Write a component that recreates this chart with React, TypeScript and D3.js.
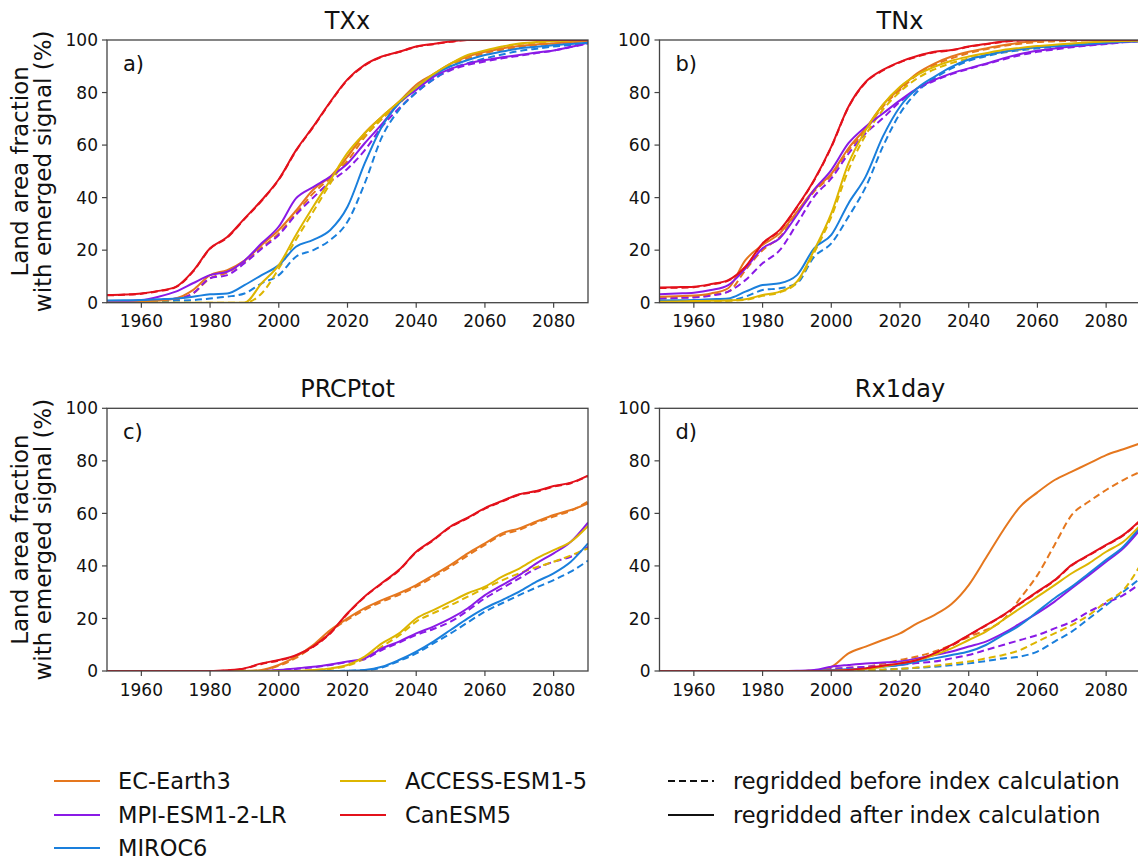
import React from "react";
import * as d3 from "d3";

// years sampled every 5 years
const years = [1950, 1955, 1960, 1965, 1970, 1975, 1980, 1985, 1990, 1995, 2000, 2005, 2010, 2015, 2020, 2025, 2030, 2035, 2040, 2045, 2050, 2055, 2060, 2065, 2070, 2075, 2080, 2085, 2090];
const models = ["EC-Earth3", "MPI-ESM1-2-LR", "MIROC6", "ACCESS-ESM1-5", "CanESM5"];
const colors = ["#E5771E", "#8A1AE6", "#1A7FDC", "#DDB500", "#E3111B"];
const xTicks = [1960, 1980, 2000, 2020, 2040, 2060, 2080];
const yTicks = [0, 20, 40, 60, 80, 100];

// TXx
const txxEC = [0.2, 0.3, 0.5, 0.8, 1.6, 4.8, 10.5, 12.4, 16, 22, 27.7, 35, 43, 48, 55.6, 64.5, 70.8, 76.5, 83, 87, 91, 93.7, 95.5, 96.8, 97.7, 98.3, 98.7, 99.2, 99.6];
const txxECd = [0.1, 0.2, 0.3, 0.6, 1.2, 3.5, 9.3, 11.5, 15.6, 21, 26.4, 34, 41.6, 47.5, 54, 63, 70, 76, 82, 86.5, 90.5, 93, 95, 96.3, 97.3, 98, 98.6, 99.1, 99.6];
const txxMPI = [0.4, 0.6, 1, 2.3, 4.2, 7.4, 10.5, 11.8, 16, 22.6, 29, 39.7, 44, 48, 53, 60.7, 68, 76, 81, 86, 89, 91, 92.4, 93.4, 94.3, 95.2, 96, 97.4, 99];
const txxMPId = [0, 0.2, 0.5, 1, 1.6, 3.5, 9.3, 10.5, 15, 20.5, 25.8, 33.5, 40, 46, 51, 58, 67, 74, 80, 85, 88.5, 90.5, 91.8, 93, 94, 95, 96, 97.3, 98.7];
const txxMIR = [0.8, 0.9, 1, 1.3, 1.6, 2.3, 3.2, 3.5, 6.7, 10.5, 14.3, 21.3, 23.9, 27.7, 36.5, 53, 67, 76, 82, 86.7, 90, 92.4, 94.3, 95.6, 96.8, 97.4, 98, 98.5, 99];
const txxMIRd = [0, 0.2, 0.4, 0.6, 0.8, 1, 1.6, 2.3, 3.5, 7.4, 10.5, 17.5, 20, 23.9, 30.8, 45.4, 63, 73.4, 80, 85, 89, 91.2, 93, 94.5, 95.8, 96.7, 97.5, 98.1, 98.7];
const txxACC = [0, 0, 0, 0, 0, 0, 0, 0, 0, 7.4, 14.3, 25.8, 36.5, 46.7, 57, 64.5, 70.8, 76.5, 82, 87, 91, 94.3, 96, 97.5, 98.7, 99.2, 99.6, 99.8, 100];
const txxACCd = [0, 0, 0, 0, 0, 0, 0, 0, 0, 3.5, 13, 24, 34.6, 45.4, 55.6, 63.5, 70, 75.8, 81.5, 86.5, 90.5, 93.8, 95.6, 97.2, 98.5, 99, 99.5, 99.7, 99.9];
const txxCAN = [2.9, 3.1, 3.5, 4.5, 6, 12, 20.7, 25, 32, 39, 47, 58, 67, 76.5, 85, 90.5, 93.7, 95.5, 97.5, 98.5, 99.4, 100, 100, 100, 100, 100, 100, 100, 100];
const txxCANd = [2.8, 3, 3.4, 4.4, 5.9, 11.8, 20.5, 24.8, 31.8, 38.8, 46.8, 57.8, 66.8, 76.3, 84.8, 90.3, 93.6, 95.4, 97.4, 98.4, 99.3, 100, 100, 100, 100, 100, 100, 100, 100];

// TNx
const tnxEC = [2.3, 2.5, 2.7, 3.5, 5.5, 16.2, 22, 26.4, 34.6, 43, 49, 58.8, 66.4, 75.3, 81.6, 87.3, 91, 93.7, 95.5, 96.8, 98, 99, 99.6, 99.9, 100, 100, 100, 100, 100];
const tnxECd = [1.6, 1.8, 2.2, 3, 4.2, 12.4, 20, 25, 34, 42.3, 48.5, 58, 65.7, 74.6, 81, 86.7, 90.5, 93, 95, 96.5, 97.7, 98.6, 99.2, 99.5, 99.7, 99.9, 100, 100, 100];
const tnxMPI = [3.2, 3.5, 3.8, 4.8, 6.7, 13, 20.7, 24.5, 33.4, 43, 50.5, 60.7, 67, 72, 77, 81.6, 84.8, 87.3, 89.2, 91, 93, 94.7, 95.9, 96.8, 97.5, 98.1, 98.7, 99.2, 99.6];
const tnxMPId = [1.6, 1.8, 2, 2.7, 4.2, 8.6, 15, 20, 30, 40.4, 47.3, 56.7, 64.5, 70.2, 76.5, 81.2, 84.5, 87, 89, 90.8, 92.6, 94.2, 95.5, 96.4, 97.2, 97.9, 98.5, 99.1, 99.6];
const tnxMIR = [0.8, 0.9, 1, 1.3, 1.6, 4.2, 6.7, 7.4, 10.5, 20.7, 25.8, 37.8, 48, 63.2, 74.6, 81.6, 86, 89.8, 92.6, 94.2, 95.5, 96.5, 97.2, 97.6, 98, 98.5, 99, 99.3, 99.6];
const tnxMIRd = [0.3, 0.4, 0.5, 0.6, 0.8, 2.3, 4.8, 5.5, 7.4, 17.5, 22.6, 32.7, 44, 59.4, 72, 80.3, 85.4, 89.2, 92.1, 93.8, 95.2, 96.1, 96.8, 97.4, 98, 98.4, 98.7, 99.2, 99.6];
const tnxACC = [0.4, 0.5, 0.6, 0.7, 0.8, 1.3, 2.9, 4.2, 8, 20, 34, 53, 65.7, 75.3, 82.2, 86.7, 89.8, 92.1, 93.7, 95, 96.2, 97, 97.7, 98.2, 98.7, 99.1, 99.4, 99.6, 99.7];
const tnxACCd = [0.3, 0.4, 0.5, 0.6, 0.7, 1.1, 2.6, 3.9, 7.6, 19, 32.7, 50.5, 63.8, 73.4, 80.3, 85.4, 88.8, 91.2, 93, 94.4, 95.5, 96.4, 97.2, 97.9, 98.5, 98.8, 99, 99.3, 99.6];
const tnxCAN = [5.8, 5.9, 6.1, 7.1, 8.6, 13.7, 22.6, 27.7, 36.5, 46.7, 59.4, 74.6, 84, 88.6, 91.7, 93.9, 95.5, 96.2, 97.5, 98.5, 99.4, 99.9, 100, 100, 100, 100, 100, 100, 100];
const tnxCANd = [5.6, 5.7, 5.9, 6.9, 8.4, 13.5, 22.4, 27.5, 36.3, 46.5, 59.2, 74.4, 83.8, 88.4, 91.5, 93.7, 95.3, 96.1, 97.4, 98.4, 99.3, 99.8, 100, 100, 100, 100, 100, 100, 100];

// PRCPtot
const prcEC = [0, 0, 0, 0, 0, 0, 0, 0, 0, 0.4, 2.3, 5.5, 9.9, 15.6, 20, 23.9, 27, 29.6, 32.7, 36.5, 40.4, 44.8, 48.6, 52.4, 54.3, 56.9, 59.4, 61.3, 63.8];
const prcECd = [0, 0, 0, 0, 0, 0, 0, 0, 0, 0.3, 2, 5, 9.5, 15.2, 19.5, 23.3, 26.4, 29, 32.1, 35.8, 39.7, 44, 48, 51.8, 53.7, 56.5, 58.8, 61, 64.5];
const prcMPI = [0, 0, 0, 0, 0, 0, 0, 0, 0, 0, 0.4, 1, 1.6, 2.5, 3.6, 4.8, 8.6, 11.2, 14.3, 16.9, 20, 23.9, 28.9, 32.7, 36.5, 41, 44.8, 49.2, 56.5];
const prcMPId = [0, 0, 0, 0, 0, 0, 0, 0, 0, 0, 0.3, 0.8, 1.4, 2.3, 3.4, 4.5, 8, 10.8, 13.7, 16, 18.8, 23, 27.7, 31.5, 35.3, 39, 41.6, 43.5, 47.3];
const prcMIR = [0, 0, 0, 0, 0, 0, 0, 0, 0, 0, 0, 0, 0, 0, 0.1, 0.4, 1.6, 4.2, 7.4, 11.2, 15.6, 20, 23.9, 27, 30.2, 34, 37.2, 41.6, 48.6];
const prcMIRd = [0, 0, 0, 0, 0, 0, 0, 0, 0, 0, 0, 0, 0, 0, 0.1, 0.3, 1.3, 3.8, 6.7, 10.5, 14.3, 18.5, 22.6, 25.8, 28.9, 31.8, 34.6, 37.8, 42];
const prcACC = [0, 0, 0, 0, 0, 0, 0, 0, 0, 0, 0, 0, 0.4, 1, 2.3, 5.5, 10.5, 14.3, 20, 23.2, 26.4, 29.6, 32.1, 35.9, 39, 42.9, 46, 49.2, 55.2];
const prcACCd = [0, 0, 0, 0, 0, 0, 0, 0, 0, 0, 0, 0, 0.3, 0.8, 2, 4.8, 9.3, 13.5, 18.8, 22, 25, 28.3, 31.5, 34.5, 37.2, 39.5, 41.6, 44, 46.7];
const prcCAN = [0, 0, 0, 0, 0, 0, 0, 0.3, 1, 2.9, 4.2, 6, 9.4, 14.5, 22, 28.4, 33.5, 38.5, 45.4, 50, 55, 58.4, 62, 64.7, 67.3, 68.5, 70.4, 71.7, 74.4];
const prcCANd = [0, 0, 0, 0, 0, 0, 0, 0.2, 0.9, 2.7, 4, 5.8, 9.2, 14.3, 21.8, 28.2, 33.3, 38.3, 45.2, 49.8, 54.8, 58.2, 61.8, 64.5, 67.1, 68.3, 70.2, 71.5, 74.2];

// Rx1day
const rxEC = [0, 0, 0, 0, 0, 0, 0, 0, 0, 0.2, 1.6, 6.7, 9.3, 11.8, 14.3, 18.1, 21.3, 25.5, 32.7, 43, 53.5, 62.6, 68, 72.7, 75.9, 79, 82.2, 84.4, 86.7];
const rxECd = [0, 0, 0, 0, 0, 0, 0, 0, 0, 0.1, 0.8, 1.2, 1.6, 2.8, 4.2, 5.5, 7.4, 9.9, 13, 15.6, 19.4, 27.7, 36.5, 48, 59.4, 64.5, 68.9, 72.7, 75.9];
const rxMPI = [0, 0, 0, 0, 0, 0, 0, 0, 0.1, 0.4, 1.6, 2.3, 2.9, 3.2, 3.6, 4.8, 6.1, 7.4, 9.3, 11.2, 14.3, 18.1, 22, 26.4, 31.5, 36.5, 41.6, 46.7, 54];
const rxMPId = [0, 0, 0, 0, 0, 0, 0, 0, 0, 0.2, 0.8, 1.2, 1.6, 2, 2.3, 3, 3.6, 4.8, 6.1, 8, 9.9, 11.8, 13.7, 16.2, 18.8, 22.6, 25.8, 28.9, 33.4];
const rxMIR = [0, 0, 0, 0, 0, 0, 0, 0, 0, 0, 0.4, 0.7, 1, 1.6, 2.3, 3.6, 4.8, 6.1, 7.4, 9.9, 13.7, 17.5, 22.6, 27.7, 32.1, 37.2, 42.3, 47.3, 55];
const rxMIRd = [0, 0, 0, 0, 0, 0, 0, 0, 0, 0, 0, 0.1, 0.3, 0.5, 0.8, 1.2, 1.6, 2.2, 2.9, 3.8, 4.8, 5.5, 7.4, 11.2, 15, 20, 25, 30.2, 35.3];
const rxACC = [0, 0, 0, 0, 0, 0, 0, 0, 0, 0, 0.1, 0.4, 0.8, 1.6, 2.9, 4.2, 6.1, 8.6, 11.8, 15, 19.4, 23.9, 28.3, 32.7, 37.2, 41, 45.4, 49.2, 55.6];
const rxACCd = [0, 0, 0, 0, 0, 0, 0, 0, 0, 0, 0, 0.1, 0.3, 0.5, 0.8, 1.3, 2, 2.8, 3.6, 4.8, 6.1, 8, 11.2, 14.3, 17.5, 21.3, 26.4, 30.8, 40.4];
const rxCAN = [0, 0, 0, 0, 0, 0, 0, 0, 0, 0, 0.1, 0.4, 1, 2, 2.9, 4.2, 6.7, 9.9, 13.7, 17.5, 21.3, 25.8, 30.2, 34.6, 40.4, 44.2, 48, 51.8, 57.5];
const rxCANd = [0, 0, 0, 0, 0, 0, 0, 0, 0, 0, 0.1, 0.3, 0.9, 1.8, 2.7, 4, 6.5, 9.7, 13.5, 17.3, 21.1, 25.6, 30, 34.4, 40.2, 44, 47.8, 51.6, 57.3];

const W = 481;
const H = 262.7;
const FONT = "DejaVu Sans";
const AXIS = "#444";

const x = d3.scaleLinear().domain([1950, 2090]).range([0, W]);
const y = d3.scaleLinear().domain([0, 100]).range([H, 0]);
const line = d3
  .line<number>()
  .x((_, i) => x(years[i]))
  .y((d) => y(d))
  .curve(d3.curveMonotoneX);

type PanelProps = {
  id: string;
  left: number;
  top: number;
  title: string;
  letter: string;
  solid: number[][];
  dashed: number[][];
  yLabel: boolean;
};

const Panel = ({ id, left, top, title, letter, solid, dashed, yLabel }: PanelProps) => (
  <g transform={`translate(${left},${top})`} fontFamily={FONT}>
    <defs>
      <clipPath id={`clip-${id}`}>
        <rect x={0} y={0} width={W} height={H} />
      </clipPath>
    </defs>
    <text x={W / 2} y={-11} textAnchor="middle" fontSize={24} fill="#111">
      {title}
    </text>
    <g clipPath={`url(#clip-${id})`}>
      {dashed.map((d, i) => (
        <path key={"d" + i} d={line(d) || ""} fill="none" stroke={colors[i]} strokeWidth={2} strokeDasharray="7,4" />
      ))}
      {solid.map((d, i) => (
        <path key={"s" + i} d={line(d) || ""} fill="none" stroke={colors[i]} strokeWidth={2} />
      ))}
    </g>
    <rect x={0} y={0} width={W} height={H} fill="none" stroke={AXIS} strokeWidth={1.3} />
    {xTicks.map((t) => (
      <g key={t} transform={`translate(${x(t)},${H})`}>
        <line y2={5} stroke={AXIS} strokeWidth={1.2} />
        <text y={24.5} textAnchor="middle" fontSize={17} fill="#111">
          {t}
        </text>
      </g>
    ))}
    {yTicks.map((t) => (
      <g key={t} transform={`translate(0,${y(t)})`}>
        <line x2={-5} stroke={AXIS} strokeWidth={1.2} />
        <text x={-9} dy="0.36em" textAnchor="end" fontSize={17} fill="#111">
          {t}
        </text>
      </g>
    ))}
    <text x={16} y={31} fontSize={21} fill="#111">
      {letter}
    </text>
    {yLabel && (
      <g transform={`translate(${-left},${H / 2}) rotate(-90)`}>
        <text x={0} y={28} textAnchor="middle" fontSize={23} fill="#111">
          Land area fraction
        </text>
        <text x={0} y={51} textAnchor="middle" fontSize={23} fill="#111">
          with emerged signal (%)
        </text>
      </g>
    )}
  </g>
);

const legendCols = [
  { lx: 54, tx: 118, items: [0, 1, 2] },
  { lx: 340, tx: 405, items: [3, 4] },
];
const legendRows = [781, 815, 848];
const styleLabels = ["regridded before index calculation", "regridded after index calculation"];

const Legend = () => (
  <g fontFamily={FONT} fontSize={22.5} fill="#111">
    {legendCols.map((c) =>
      c.items.map((m, r) => (
        <g key={m}>
          <line x1={c.lx} x2={c.lx + 46} y1={legendRows[r]} y2={legendRows[r]} stroke={colors[m]} strokeWidth={2.2} />
          <text x={c.tx} y={legendRows[r]} dy="0.35em">
            {models[m]}
          </text>
        </g>
      ))
    )}
    {styleLabels.map((s, r) => (
      <g key={s}>
        <line x1={668} x2={714} y1={legendRows[r]} y2={legendRows[r]} stroke="#111" strokeWidth={2.2} strokeDasharray={r === 0 ? "7,4" : undefined} />
        <text x={733} y={legendRows[r]} dy="0.35em">
          {s}
        </text>
      </g>
    ))}
  </g>
);

const App = () => {
  const panels: PanelProps[] = [
    { id: "a", left: 107, top: 40, title: "TXx", letter: "a)", yLabel: true,
      solid: [txxEC, txxMPI, txxMIR, txxACC, txxCAN], dashed: [txxECd, txxMPId, txxMIRd, txxACCd, txxCANd] },
    { id: "b", left: 659.5, top: 40, title: "TNx", letter: "b)", yLabel: false,
      solid: [tnxEC, tnxMPI, tnxMIR, tnxACC, tnxCAN], dashed: [tnxECd, tnxMPId, tnxMIRd, tnxACCd, tnxCANd] },
    { id: "c", left: 107, top: 408.3, title: "PRCPtot", letter: "c)", yLabel: true,
      solid: [prcEC, prcMPI, prcMIR, prcACC, prcCAN], dashed: [prcECd, prcMPId, prcMIRd, prcACCd, prcCANd] },
    { id: "d", left: 659.5, top: 408.3, title: "Rx1day", letter: "d)", yLabel: false,
      solid: [rxEC, rxMPI, rxMIR, rxACC, rxCAN], dashed: [rxECd, rxMPId, rxMIRd, rxACCd, rxCANd] },
  ];
  return (
    <svg width={1138} height={860} style={{ position: "absolute", left: 0, top: 0, background: "#fff" }}>
      <rect width={1138} height={860} fill="#fff" />
      {panels.map((p) => (
        <Panel key={p.id} {...p} />
      ))}
      <Legend />
    </svg>
  );
};

export default App;
